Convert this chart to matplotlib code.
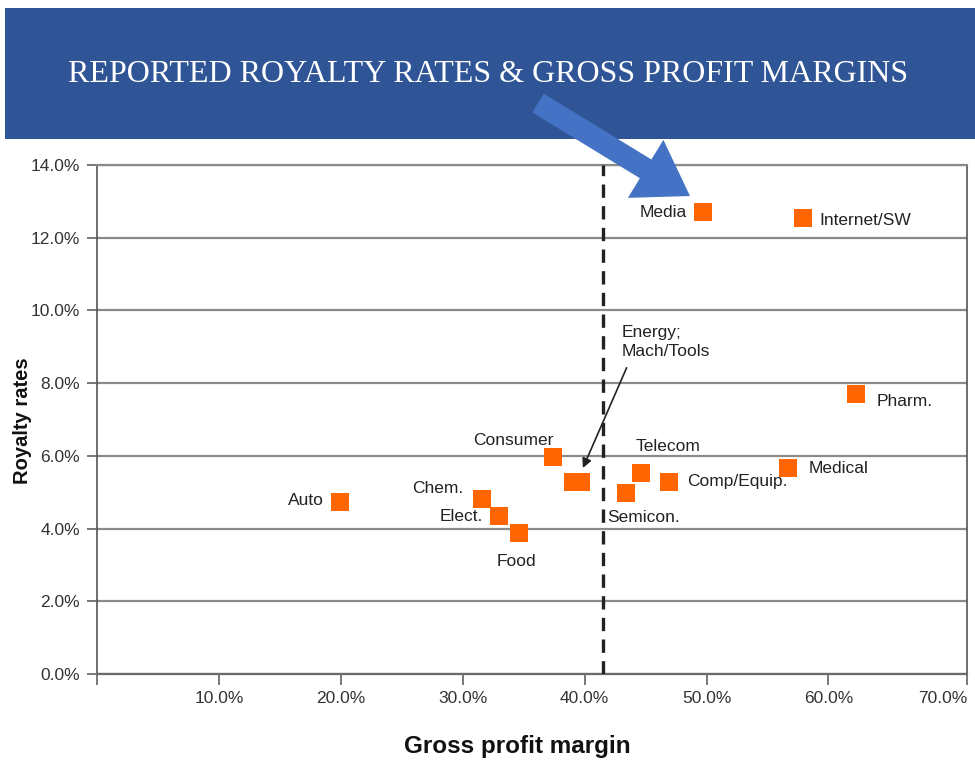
import matplotlib
matplotlib.use("Agg")
import matplotlib.pyplot as plt
from matplotlib.patches import Rectangle, FancyArrow

# data (percent)
sectors = ['Auto', 'Chem.', 'Elect.', 'Food', 'Consumer', 'Energy', 'Mach/Tools',
           'Semicon.', 'Telecom', 'Comp/Equip.', 'Media', 'Medical', 'Internet/SW', 'Pharm.']
gross_margin = [19.9, 31.6, 33.0, 34.6, 37.4, 39.0, 39.7, 43.4, 44.6, 46.9, 49.7, 56.7, 57.9, 62.3]
royalty_rate = [4.72, 4.81, 4.34, 3.87, 5.98, 5.28, 5.28, 4.97, 5.52, 5.27, 12.70, 5.66, 12.54, 7.70]
median_margin = 41.5

y_ticks = [0, 2, 4, 6, 8, 10, 12, 14]
x_ticks = [0, 10, 20, 30, 40, 50, 60, 71.4]
x_tick_labels = ['', '10.0%', '20.0%', '30.0%', '40.0%', '50.0%', '60.0%', '70.0%']

title = 'REPORTED ROYALTY RATES & GROSS PROFIT MARGINS'

# label placement: (ha, dx px, dy px, y down positive)
label_pos = {
    'Auto': ('right', -16, -1.5),
    'Chem.': ('right', -19, -10.7),
    'Elect.': ('right', -16.4, 0),
    'Food': ('center', -2, 28.4),
    'Consumer': ('right', 0, -16),
    'Semicon.': ('left', -19.3, 24),
    'Telecom': ('left', -5, -26.6),
    'Comp/Equip.': ('left', 18, -1),
    'Media': ('right', -15.6, 0),
    'Medical': ('left', 20.6, 0),
    'Internet/SW': ('left', 17, 2),
    'Pharm.': ('left', 20.7, 7.7),
}

plt.rcParams['font.family'] = ['Liberation Sans', 'DejaVu Sans']

W, H = 975, 761
fig = plt.figure(figsize=(W / 100, H / 100), dpi=100)
ax = fig.add_axes([97.3 / W, 1 - 674 / H, 870 / W, 509 / H])

ax.scatter(gross_margin, royalty_rate, marker='s', s=150, color='#ff6600',
           linewidths=0, zorder=4, clip_on=False)

px = 0.72  # points per pixel
for name, gx, ry in zip(sectors, gross_margin, royalty_rate):
    if name not in label_pos:
        continue
    ha, dx, dy = label_pos[name]
    ax.annotate(name, (gx, ry), xytext=(dx * px, -dy * px), textcoords='offset points',
                ha=ha, va='center', fontsize=12.5, color='#222222', zorder=5)

# shared label for the two overlapping points
ex = (gross_margin[5] + gross_margin[6]) / 2
ey = royalty_rate[5]
ax.annotate('Energy;\nMach/Tools', (ex, ey), xytext=(45 * px, 157 * px),
            textcoords='offset points', ha='left', va='top', fontsize=12.5,
            color='#222222', linespacing=1.3, zorder=5,
            arrowprops=dict(arrowstyle='-|>', color='#222222', lw=1.2,
                            shrinkA=5, shrinkB=11, relpos=(0.1, 0),
                            mutation_scale=14))

ax.axvline(median_margin, color='#222222', lw=2.4, ls=(0, (4, 2.5)), zorder=3)

ax.set_xlim(0, x_ticks[-1])
ax.set_ylim(0, 14)
ax.set_yticks(y_ticks)
ax.set_yticklabels([f'{v:.1f}%' for v in y_ticks])
ax.set_xticks(x_ticks)
ax.set_xticklabels(x_tick_labels)
ax.get_xticklabels()[-1].set_horizontalalignment('right')

ax.grid(axis='y', color='#8a8a8a', lw=1.6, zorder=1)
ax.set_axisbelow(True)
for side in ['left', 'right']:
    ax.spines[side].set_color('#555555')
    ax.spines[side].set_linewidth(1.2)
ax.spines['bottom'].set_color('#6a6a6a')
ax.spines['bottom'].set_linewidth(1.6)
ax.spines['top'].set_color('#8a8a8a')
ax.spines['top'].set_linewidth(1.6)
ax.tick_params(axis='y', direction='out', length=7.5, width=1.1, color='#555555',
               pad=5, labelsize=12.5, labelcolor='#333333')
ax.tick_params(axis='x', direction='out', length=8, width=1.1, color='#555555',
               pad=4.5, labelsize=12.5, labelcolor='#333333')

fig.text(22.5 / W, 1 - 421 / H, 'Royalty rates', rotation=90, ha='center', va='center',
         fontsize=14.5, fontweight='bold', color='#111111')
fig.text(517 / W, 1 - 747 / H, 'Gross profit margin', ha='center', va='center',
         fontsize=17.5, fontweight='bold', color='#111111')

# banner and big blue arrow on top, in pixel coordinates
deco = fig.add_axes([0, 0, 1, 1], zorder=5)
deco.set_xlim(0, W)
deco.set_ylim(H, 0)
deco.axis('off')
deco.patch.set_alpha(0)
deco.add_patch(Rectangle((5, 8), W - 5, 131, color='#2f5597', lw=0))
deco.text(488, 74, title, ha='center', va='center', color='white', fontsize=23,
          family=['Liberation Serif', 'DejaVu Serif'])
deco.add_patch(FancyArrow(538, 103, 152, 93, width=22, head_width=68, head_length=52,
                          length_includes_head=True, color='#4472c4', lw=0))

fig.savefig('out.png', dpi=100)
